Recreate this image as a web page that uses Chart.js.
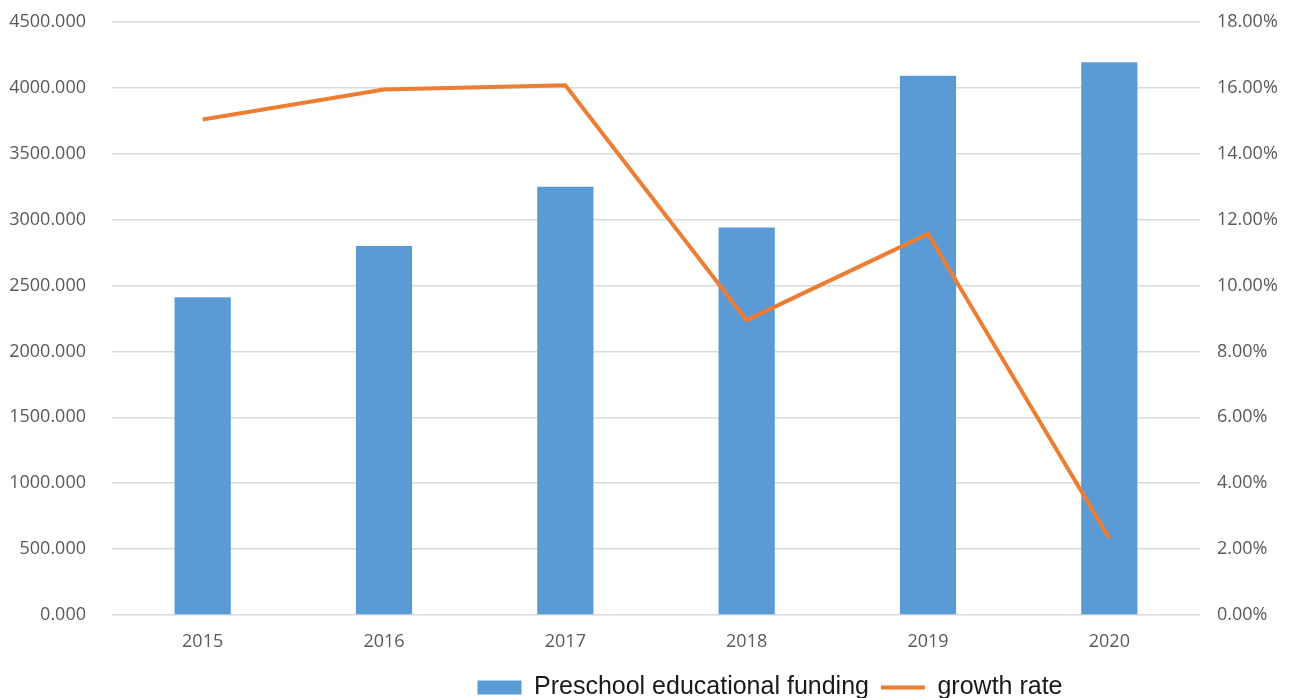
<!DOCTYPE html>
<html>
<head>
<meta charset="utf-8">
<title>Preschool educational funding</title>
<script src="https://cdn.jsdelivr.net/npm/chart.js@4/dist/chart.umd.min.js"></script>
<style>
    html, body { margin: 0; padding: 0; background: #fff; overflow: hidden; }
    #wrap { width: 1290px; height: 710px; position: relative; }
</style>
</head>
<body>
<div id="wrap"><canvas id="fundingChart"></canvas></div>
<script>
// Yearly values
const years = ['2015', '2016', '2017', '2018', '2019', '2020'];
const funding = [2412, 2800, 3250, 2940, 4092, 4194];
const growthRate = [15.04, 15.95, 16.08, 8.95, 11.57, 2.33];

const tickColor = '#595959';
const gridColor = '#d9d9d9';
const tickFont = { family: 'Open Sans', size: 18 };

// legend sits right of centre under the plot
const legendShift = {
    id: 'legendShift',
    afterLayout(chart) {
        chart.legend.left += 125;
        chart.legend.right += 125;
    }
};

// fixed axis width, no extra space above/below for tick labels
function fixWidth(w) {
    return scale => {
        scale.width = w;
        scale.paddingTop = 0;
        scale.paddingBottom = 0;
    };
}

const ctx = document.getElementById('fundingChart').getContext('2d');
new Chart(ctx, {
    data: {
        labels: years,
        datasets: [
            {
                type: 'bar',
                label: 'Preschool educational funding',
                data: funding,
                backgroundColor: '#5b9bd5',
                barPercentage: 0.31,
                categoryPercentage: 1,
                yAxisID: 'y',
                order: 2
            },
            {
                type: 'line',
                label: 'growth rate',
                data: growthRate,
                borderColor: '#ed7d31',
                backgroundColor: '#ed7d31',
                borderWidth: 4,
                pointRadius: 0,
                tension: 0,
                yAxisID: 'y1',
                order: 1
            }
        ]
    },
    plugins: [legendShift],
    options: {
        responsive: true,
        maintainAspectRatio: false,
        animation: false,
        layout: { padding: { top: 22, left: 0, right: 0, bottom: 0 } },
        plugins: {
            tooltip: { enabled: false },
            legend: {
                position: 'bottom',
                labels: {
                    font: { family: 'Liberation Sans', size: 25 },
                    color: '#1a1a1a',
                    usePointStyle: true,
                    pointStyleWidth: 44,
                    boxHeight: 14,
                    padding: 12,
                    generateLabels(chart) {
                        return chart.data.datasets.map((ds, i) => ({
                            text: ds.label,
                            datasetIndex: i,
                            fillStyle: ds.backgroundColor,
                            strokeStyle: ds.type === 'line' ? ds.borderColor : ds.backgroundColor,
                            lineWidth: ds.type === 'line' ? 4 : 0,
                            pointStyle: ds.type === 'line' ? 'line' : 'rect',
                            fontColor: '#1a1a1a',
                            hidden: false
                        }));
                    }
                }
            }
        },
        scales: {
            x: {
                offset: true,
                grid: { display: false, drawTicks: false },
                border: { display: false },
                ticks: { color: tickColor, font: tickFont, padding: 16 },
                afterFit(scale) { scale.height = 48; }
            },
            y: {
                position: 'left',
                min: 0,
                max: 4500,
                grid: { color: gridColor, lineWidth: 1.5, drawTicks: false },
                border: { display: false },
                ticks: {
                    stepSize: 500,
                    color: tickColor,
                    font: tickFont,
                    padding: 26,
                    callback: v => v.toFixed(3)
                },
                afterFit: fixWidth(112)
            },
            y1: {
                position: 'right',
                min: 0,
                max: 18,
                grid: { display: false, drawTicks: false },
                border: { display: false },
                ticks: {
                    stepSize: 2,
                    color: tickColor,
                    font: tickFont,
                    padding: 17,
                    callback: v => v.toFixed(2) + '%'
                },
                afterFit: fixWidth(90)
            }
        }
    }
});
</script>
</body>
</html>
